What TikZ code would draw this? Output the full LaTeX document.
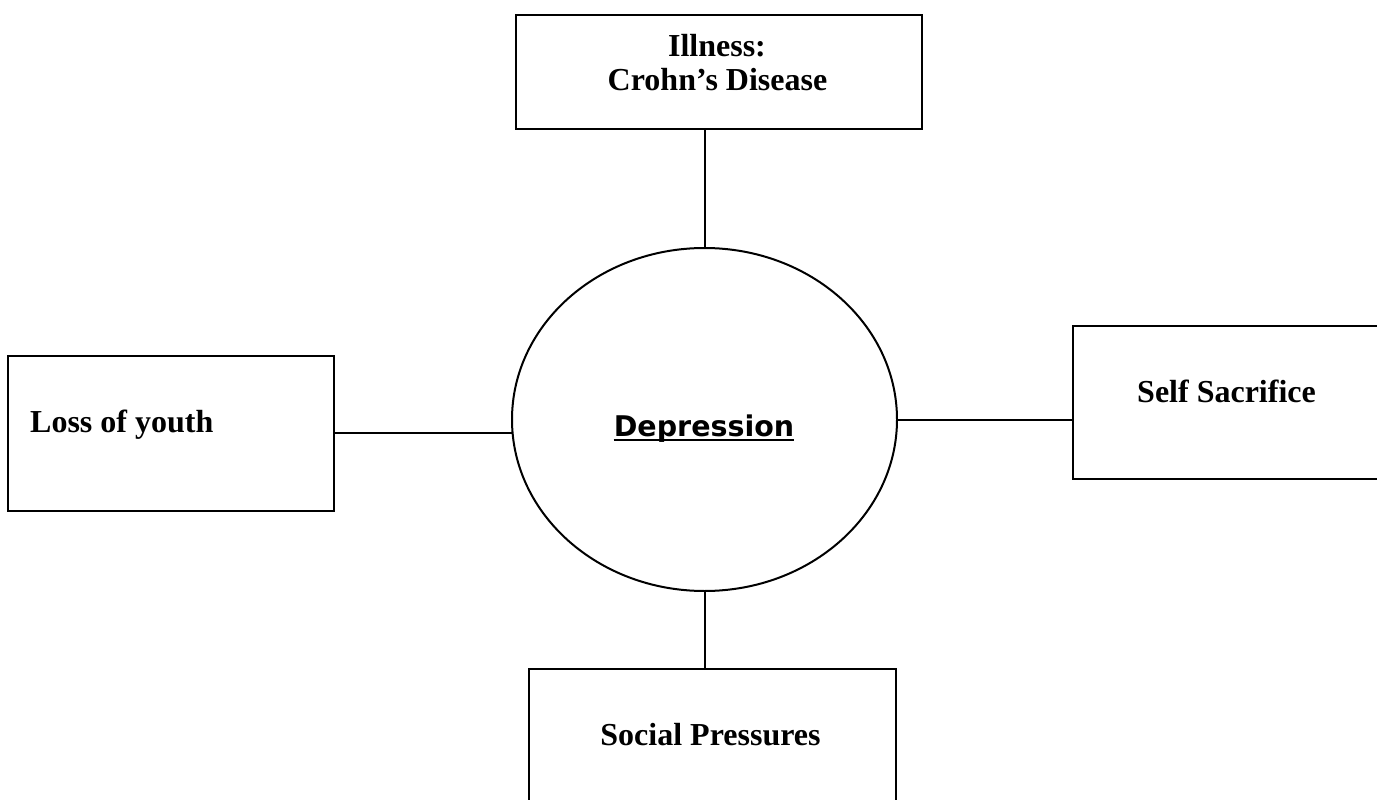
\documentclass[tikz,border=0pt]{standalone}
\usepackage{fontspec}
\setmainfont{Liberation Serif}
\newfontfamily\verd{DejaVu Sans}
\usetikzlibrary{shapes.geometric}
\begin{document}
\begin{tikzpicture}[x=1pt,y=-1pt,
  conn/.style={draw, line width=2pt},
  boxnode/.style={draw, line width=2pt, rectangle, inner sep=0pt, anchor=north west},
  lbl/.style={inner sep=0pt, font=\fontsize{32}{34}\selectfont\bfseries},
  ell/.style={draw, line width=2pt, ellipse, inner sep=0pt, minimum width=385pt, minimum height=343pt}]
\useasboundingbox (0,0) rectangle (1377,800);
\fill[white] (0,0) rectangle (1377,800);
\clip (0,0) rectangle (1377,800);
% boxes
\node[boxnode, minimum width=406pt, minimum height=114pt] (top) at (515,14) {};
\node[boxnode, minimum width=326pt, minimum height=155pt] (left) at (7,355) {};
\node[boxnode, minimum width=330pt, minimum height=153pt] (right) at (1072,325) {};
\node[boxnode, minimum width=367pt, minimum height=160pt] (soc) at (528,668) {};
\node[ell] (dep) at (704.5,419.5) {};
% labels
\node[lbl, anchor=base] (t1) at (717,57) {Illness:};
\node[lbl, anchor=base] (t2) at (717.5,91) {Crohn’s Disease};
\node[lbl, anchor=base west] (tl) at (30,432) {Loss of youth};
\node[lbl, anchor=base west] (tr) at (1137,402) {Self Sacrifice};
\node[lbl, anchor=base] (ts) at (710.5,745) {Social Pressures};
\node[inner sep=0pt, anchor=base, font=\verd\bfseries\fontsize{28.5}{30}\selectfont] (td) at (704,436) {Depression};
\draw[conn] ([yshift=-4pt]td.base west) -- ([yshift=-4pt]td.base east);
% connectors
\draw[conn] (dep.north) -- (dep.north |- top.south);
\draw[conn] (dep.south) -- (dep.south |- soc.north);
\draw[conn] (dep.184.3) -- (dep.184.3 -| left.east);
\draw[conn] (dep.east) -- (dep.east -| right.west);
\end{tikzpicture}
\end{document}
